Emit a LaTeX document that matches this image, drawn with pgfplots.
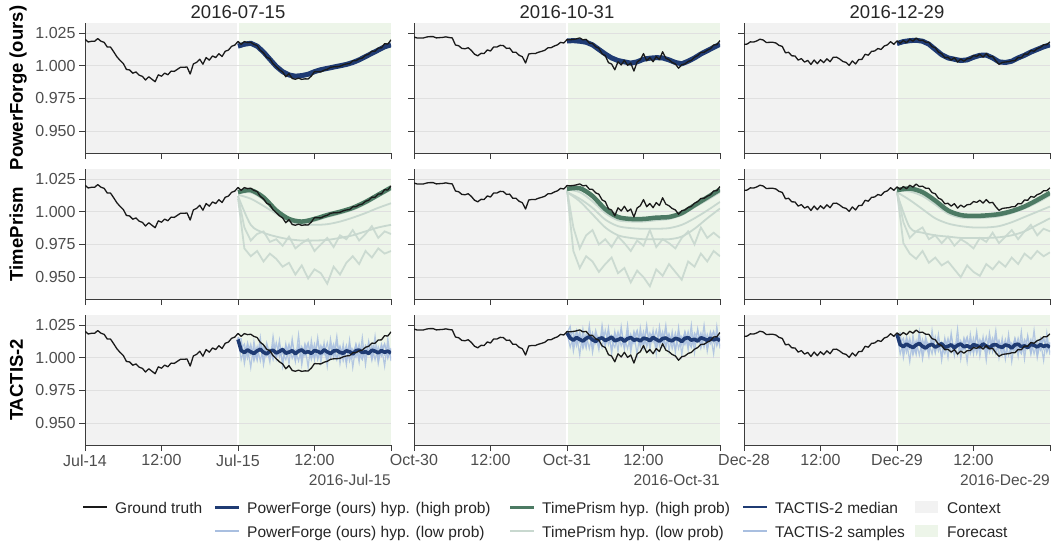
\documentclass[border=0pt]{standalone}
\usepackage{fontspec}
\setmainfont{Liberation Sans}
\usepackage{pgfplots}
\usepackage{pgfplotstable}
\pgfplotsset{compat=1.18}

\definecolor{ctxbg}{HTML}{F2F2F2}
\definecolor{fcbg}{HTML}{EDF5E9}
\definecolor{gridcol}{HTML}{E0E0E0}
\definecolor{axcol}{HTML}{3C3C3C}
\definecolor{tickcol}{HTML}{4D4D4D}
\definecolor{gtcol}{HTML}{1A1A1A}
\definecolor{navy}{HTML}{1F3B73}
\definecolor{lightblue}{HTML}{A9BFE0}
\definecolor{tpgreen}{HTML}{4C7A63}
\definecolor{tplowc}{HTML}{C8D8CF}
\definecolor{txt}{HTML}{262626}

\newcommand\ticksize{\fontsize{16}{19}\selectfont}
\newcommand\legsize{\fontsize{15.5}{18}\selectfont}

% ground truth, 30 min steps
\pgfplotstableread{
x y
0.0 1.0203
0.5 1.0182
1.0 1.0187
1.5 1.0187
2.0 1.0208
2.5 1.0188
3.0 1.0179
3.5 1.0143
4.0 1.0143
4.5 1.0107
5.0 1.0069
5.5 1.0041
6.0 1.0018
6.5 0.9972
7.0 0.9968
7.5 0.9943
8.0 0.9953
8.5 0.9928
9.0 0.9919
9.5 0.9891
10.0 0.9916
10.5 0.9897
11.0 0.9878
11.5 0.9931
12.0 0.9920
12.5 0.9944
13.0 0.9931
13.5 0.9959
14.0 0.9957
14.5 0.9973
15.0 0.9989
15.5 0.9988
16.0 0.9991
16.5 0.9937
17.0 1.0014
17.5 1.0026
18.0 1.0050
18.5 1.0012
19.0 1.0063
19.5 1.0043
20.0 1.0075
20.5 1.0063
21.0 1.0092
21.5 1.0071
22.0 1.0111
22.5 1.0120
23.0 1.0149
23.5 1.0158
24.0 1.0186
24.5 1.0164
25.0 1.0185
25.5 1.0177
26.0 1.0180
26.5 1.0163
27.0 1.0155
27.5 1.0118
28.0 1.0099
28.5 1.0065
29.0 1.0054
29.5 1.0016
30.0 0.9993
30.5 0.9969
31.0 0.9953
31.5 0.9916
32.0 0.9940
32.5 0.9903
33.0 0.9897
33.5 0.9905
34.0 0.9896
34.5 0.9900
35.0 0.9899
35.5 0.9921
36.0 0.9956
36.5 0.9954
37.0 0.9953
37.5 0.9966
38.0 0.9973
38.5 0.9988
39.0 0.9992
39.5 0.9993
40.0 0.9996
40.5 1.0007
41.0 1.0014
41.5 1.0016
42.0 1.0038
42.5 1.0039
43.0 1.0053
43.5 1.0059
44.0 1.0080
44.5 1.0088
45.0 1.0112
45.5 1.0111
46.0 1.0136
46.5 1.0137
47.0 1.0169
47.5 1.0166
48.0 1.0198
}\gtA

\pgfplotstableread{
x y
0.0 1.0220
0.5 1.0212
1.0 1.0213
1.5 1.0213
2.0 1.0220
2.5 1.0223
3.0 1.0223
3.5 1.0213
4.0 1.0215
4.5 1.0217
5.0 1.0221
5.5 1.0216
6.0 1.0213
6.5 1.0159
7.0 1.0153
7.5 1.0133
8.0 1.0130
8.5 1.0138
9.0 1.0117
9.5 1.0088
10.0 1.0076
10.5 1.0095
11.0 1.0094
11.5 1.0121
12.0 1.0113
12.5 1.0144
13.0 1.0143
13.5 1.0156
14.0 1.0155
14.5 1.0133
15.0 1.0135
15.5 1.0103
16.0 1.0103
16.5 1.0080
17.0 1.0069
17.5 1.0021
18.0 1.0090
18.5 1.0094
19.0 1.0093
19.5 1.0103
20.0 1.0110
20.5 1.0118
21.0 1.0137
21.5 1.0138
22.0 1.0151
22.5 1.0160
23.0 1.0179
23.5 1.0174
24.0 1.0200
24.5 1.0199
25.0 1.0201
25.5 1.0206
26.0 1.0213
26.5 1.0198
27.0 1.0202
27.5 1.0173
28.0 1.0171
28.5 1.0145
29.0 1.0134
29.5 1.0091
30.0 1.0078
30.5 1.0024
31.0 1.0013
31.5 0.9969
32.0 1.0030
32.5 1.0006
33.0 1.0042
33.5 1.0003
34.0 1.0021
34.5 0.9960
35.0 1.0029
35.5 1.0046
36.0 1.0093
36.5 1.0039
37.0 1.0063
37.5 1.0031
38.0 1.0070
38.5 1.0048
39.0 1.0107
39.5 1.0058
40.0 1.0046
40.5 1.0025
41.0 1.0014
41.5 0.9981
42.0 1.0008
42.5 1.0014
43.0 1.0033
43.5 1.0041
44.0 1.0065
44.5 1.0078
45.0 1.0102
45.5 1.0103
46.0 1.0119
46.5 1.0130
47.0 1.0159
47.5 1.0161
48.0 1.0193
}\gtB

\pgfplotstableread{
x y
0.0 1.0163
0.5 1.0166
1.0 1.0183
1.5 1.0181
2.0 1.0190
2.5 1.0203
3.0 1.0197
3.5 1.0178
4.0 1.0179
4.5 1.0180
5.0 1.0174
5.5 1.0156
6.0 1.0148
6.5 1.0099
7.0 1.0103
7.5 1.0076
8.0 1.0075
8.5 1.0043
9.0 1.0055
9.5 1.0028
10.0 1.0041
10.5 1.0010
11.0 1.0044
11.5 1.0016
12.0 1.0046
12.5 1.0024
13.0 1.0053
13.5 1.0031
14.0 1.0065
14.5 1.0066
15.0 1.0052
15.5 1.0033
16.0 1.0026
16.5 1.0003
17.0 1.0037
17.5 1.0014
18.0 1.0048
18.5 1.0049
19.0 1.0088
19.5 1.0081
20.0 1.0110
20.5 1.0113
21.0 1.0132
21.5 1.0125
22.0 1.0151
22.5 1.0160
23.0 1.0184
23.5 1.0164
24.0 1.0190
24.5 1.0172
25.0 1.0193
25.5 1.0176
26.0 1.0203
26.5 1.0188
27.0 1.0212
27.5 1.0193
28.0 1.0196
28.5 1.0180
29.0 1.0179
29.5 1.0146
30.0 1.0138
30.5 1.0104
31.0 1.0093
31.5 1.0061
32.0 1.0065
32.5 1.0043
33.0 1.0062
33.5 1.0028
34.0 1.0051
34.5 1.0035
35.0 1.0054
35.5 1.0056
36.0 1.0078
36.5 1.0072
37.0 1.0088
37.5 1.0066
38.0 1.0093
38.5 1.0068
39.0 1.0072
39.5 1.0038
40.0 1.0011
40.5 1.0025
41.0 1.0029
41.5 1.0031
42.0 1.0038
42.5 1.0039
43.0 1.0063
43.5 1.0061
44.0 1.0090
44.5 1.0088
45.0 1.0117
45.5 1.0111
46.0 1.0131
46.5 1.0140
47.0 1.0161
47.5 1.0161
48.0 1.0183
}\gtC

% hourly forecasts: PowerForge high/low, TimePrism noisy low-prob hypotheses
\pgfplotstableread{
x pfh pfl n1 n2
24 1.0150 1.0140 1.0120 1.0100
25 1.0165 1.0152 0.9880 0.9720
26 1.0172 1.0160 0.9780 0.9660
27 1.0150 1.0138 0.9830 0.9700
28 1.0105 1.0095 0.9850 0.9620
29 1.0050 1.0040 0.9770 0.9680
30 0.9995 0.9985 0.9790 0.9640
31 0.9955 0.9943 0.9740 0.9580
32 0.9930 0.9918 0.9810 0.9610
33 0.9920 0.9910 0.9720 0.9520
34 0.9925 0.9913 0.9760 0.9590
35 0.9935 0.9925 0.9790 0.9490
36 0.9955 0.9943 0.9700 0.9560
37 0.9970 0.9960 0.9750 0.9530
38 0.9980 0.9968 0.9800 0.9450
39 0.9990 0.9980 0.9730 0.9580
40 1.0000 0.9988 0.9820 0.9520
41 1.0010 1.0000 0.9790 0.9610
42 1.0025 1.0013 0.9860 0.9660
43 1.0045 1.0035 0.9780 0.9600
44 1.0070 1.0058 0.9830 0.9700
45 1.0095 1.0085 0.9890 0.9650
46 1.0120 1.0108 0.9800 0.9720
47 1.0145 1.0135 0.9850 0.9680
48 1.0160 1.0150 0.9830 0.9700
}\hrA

\pgfplotstableread{
x pfh pfl n1 n2
24 1.0190 1.0180 1.0170 1.0160
25 1.0192 1.0180 0.9880 0.9700
26 1.0188 1.0176 0.9720 0.9570
27 1.0180 1.0168 0.9820 0.9660
28 1.0160 1.0148 0.9860 0.9620
29 1.0125 1.0113 0.9750 0.9540
30 1.0090 1.0078 0.9790 0.9600
31 1.0060 1.0048 0.9730 0.9650
32 1.0040 1.0028 0.9810 0.9530
33 1.0030 1.0018 0.9760 0.9570
34 1.0020 1.0008 0.9700 0.9460
35 1.0030 1.0018 0.9780 0.9550
36 1.0050 1.0038 0.9740 0.9500
37 1.0058 1.0046 0.9860 0.9430
38 1.0062 1.0050 0.9730 0.9560
39 1.0060 1.0048 0.9790 0.9510
40 1.0045 1.0033 0.9760 0.9600
41 1.0025 1.0013 0.9720 0.9540
42 1.0015 1.0003 0.9800 0.9480
43 1.0035 1.0023 0.9850 0.9620
44 1.0060 1.0048 0.9750 0.9580
45 1.0090 1.0078 0.9880 0.9680
46 1.0115 1.0103 0.9800 0.9620
47 1.0140 1.0128 0.9840 0.9700
48 1.0165 1.0153 0.9800 0.9660
}\hrB

\pgfplotstableread{
x pfh pfl n1 n2
24 1.0170 1.0160 1.0160 1.0150
25 1.0185 1.0173 0.9920 0.9760
26 1.0192 1.0180 0.9800 0.9680
27 1.0195 1.0183 0.9850 0.9640
28 1.0188 1.0176 0.9880 0.9700
29 1.0165 1.0153 0.9790 0.9610
30 1.0125 1.0113 0.9820 0.9650
31 1.0085 1.0073 0.9760 0.9590
32 1.0060 1.0048 0.9810 0.9620
33 1.0050 1.0038 0.9740 0.9560
34 1.0040 1.0028 0.9790 0.9500
35 1.0045 1.0033 0.9760 0.9590
36 1.0065 1.0053 0.9720 0.9540
37 1.0080 1.0068 0.9800 0.9510
38 1.0082 1.0070 0.9770 0.9600
39 1.0060 1.0048 0.9840 0.9560
40 1.0030 1.0018 0.9760 0.9620
41 1.0025 1.0013 0.9810 0.9580
42 1.0035 1.0023 0.9860 0.9650
43 1.0060 1.0048 0.9790 0.9600
44 1.0080 1.0068 0.9850 0.9680
45 1.0105 1.0093 0.9900 0.9640
46 1.0125 1.0113 0.9820 0.9700
47 1.0145 1.0133 0.9870 0.9660
48 1.0160 1.0148 0.9850 0.9690
}\hrC

% TimePrism smooth hypotheses, 2 h steps
\pgfplotstableread{
x tph l1 l2 l3
24 1.0150 1.0140 1.0130 1.0120
26 1.0165 1.0148 1.0100 0.9900
28 1.0110 1.0092 1.0045 0.9840
30 1.0010 0.9992 0.9985 0.9810
32 0.9945 0.9928 0.9930 0.9790
34 0.9925 0.9910 0.9905 0.9780
36 0.9945 0.9930 0.9900 0.9780
38 0.9975 0.9960 0.9905 0.9785
40 1.0000 0.9985 0.9925 0.9800
42 1.0030 1.0015 0.9955 0.9820
44 1.0075 1.0060 0.9990 0.9850
46 1.0130 1.0115 1.0030 0.9880
48 1.0185 1.0170 1.0065 0.9900
}\tpA

\pgfplotstableread{
x tph l1 l2 l3
24 1.0175 1.0170 1.0150 1.0150
26 1.0180 1.0150 1.0100 1.0080
28 1.0120 1.0080 1.0030 0.9980
30 1.0020 0.9990 0.9940 0.9880
32 0.9960 0.9935 0.9890 0.9820
34 0.9945 0.9925 0.9875 0.9800
36 0.9945 0.9925 0.9870 0.9790
38 0.9955 0.9935 0.9870 0.9790
40 0.9960 0.9945 0.9875 0.9790
42 0.9990 0.9975 0.9900 0.9810
44 1.0050 1.0035 0.9950 0.9870
46 1.0110 1.0090 1.0010 0.9950
48 1.0170 1.0150 1.0075 1.0025
}\tpB

\pgfplotstableread{
x tph l1 l2 l3
24 1.0165 1.0160 1.0150 1.0140
26 1.0178 1.0155 1.0090 0.9880
28 1.0150 1.0120 1.0020 0.9840
30 1.0085 1.0055 0.9950 0.9820
32 1.0010 0.9985 0.9910 0.9810
34 0.9975 0.9955 0.9890 0.9800
36 0.9968 0.9950 0.9880 0.9800
38 0.9972 0.9955 0.9880 0.9800
40 0.9982 0.9965 0.9890 0.9805
42 1.0005 0.9990 0.9920 0.9820
44 1.0040 1.0025 0.9960 0.9850
46 1.0090 1.0070 1.0000 0.9900
48 1.0145 1.0125 1.0040 0.9950
}\tpC

% TACTIS-2 median and samples, 30 min steps
\pgfplotstableread{
x med s1 s2 s3 s4
24.0 1.0140 1.0160 1.0150 1.0155 1.0150
24.5 1.0055 1.0095 0.9985 1.0065 1.0145
25.0 1.0040 1.0005 1.0075 1.0105 0.9955
25.5 1.0060 1.0115 1.0025 0.9995 1.0085
26.0 1.0045 1.0025 1.0105 1.0075 0.9925
26.5 1.0033 1.0075 0.9995 0.9975 1.0125
27.0 1.0053 0.9985 1.0085 1.0055 0.9985
27.5 1.0065 1.0125 0.9975 1.0085 1.0155
28.0 1.0042 1.0035 1.0095 0.9985 0.9945
28.5 1.0030 1.0085 1.0015 1.0115 1.0075
29.0 1.0050 0.9995 1.0065 1.0025 0.9965
29.5 1.0057 1.0105 0.9985 1.0075 1.0165
30.0 1.0037 1.0015 1.0115 0.9995 0.9995
30.5 1.0048 1.0065 1.0005 1.0105 1.0135
31.0 1.0063 0.9975 1.0075 1.0035 0.9935
31.5 1.0035 1.0095 1.0025 0.9985 1.0105
32.0 1.0043 1.0025 1.0105 1.0085 0.9955
32.5 1.0054 1.0115 0.9995 1.0065 1.0145
33.0 1.0031 1.0005 1.0055 0.9975 0.9975
33.5 1.0051 1.0075 0.9975 1.0095 1.0175
34.0 1.0060 0.9985 1.0085 1.0015 0.9945
34.5 1.0039 1.0105 1.0015 1.0055 1.0095
35.0 1.0047 1.0035 1.0105 1.0115 0.9925
35.5 1.0034 1.0085 0.9985 1.0005 1.0135
36.0 1.0055 0.9995 1.0065 1.0105 0.9985
36.5 1.0049 1.0125 1.0005 0.9985 1.0155
37.0 1.0036 1.0015 1.0095 1.0065 0.9965
37.5 1.0061 1.0065 1.0025 1.0095 1.0115
38.0 1.0045 0.9985 1.0115 1.0015 0.9935
38.5 1.0032 1.0095 0.9995 1.0035 1.0145
39.0 1.0052 1.0005 1.0075 1.0105 1.0005
39.5 1.0056 1.0115 0.9985 0.9995 1.0165
40.0 1.0041 1.0025 1.0085 1.0085 0.9955
40.5 1.0035 1.0075 1.0015 0.9975 1.0105
41.0 1.0053 0.9975 1.0095 1.0065 0.9945
41.5 1.0047 1.0105 0.9975 1.0075 1.0135
42.0 1.0029 1.0035 1.0065 1.0005 0.9925
42.5 1.0054 1.0095 1.0005 1.0105 1.0095
43.0 1.0059 0.9995 1.0105 1.0025 0.9965
43.5 1.0040 1.0085 0.9995 0.9985 1.0155
44.0 1.0046 1.0015 1.0075 1.0095 0.9945
44.5 1.0033 1.0115 1.0025 1.0055 1.0125
45.0 1.0058 0.9985 1.0095 1.0015 0.9985
45.5 1.0050 1.0065 0.9985 1.0085 1.0165
46.0 1.0038 1.0005 1.0085 0.9975 0.9955
46.5 1.0055 1.0105 1.0015 1.0065 1.0085
47.0 1.0042 1.0025 1.0105 1.0105 0.9935
47.5 1.0051 1.0095 1.0005 0.9995 1.0145
48.0 1.0036 0.9995 1.0065 1.0075 0.9975
}\tcA

\pgfplotstableread{
x med s1 s2 s3 s4
24.0 1.0190 1.0195 1.0190 1.0192 1.0190
24.5 1.0150 1.0190 1.0080 1.0160 1.0240
25.0 1.0135 1.0100 1.0170 1.0200 1.0050
25.5 1.0155 1.0210 1.0120 1.0090 1.0180
26.0 1.0140 1.0120 1.0200 1.0170 1.0020
26.5 1.0128 1.0170 1.0090 1.0070 1.0220
27.0 1.0148 1.0080 1.0180 1.0150 1.0080
27.5 1.0160 1.0220 1.0070 1.0180 1.0250
28.0 1.0137 1.0130 1.0190 1.0080 1.0040
28.5 1.0125 1.0180 1.0110 1.0210 1.0170
29.0 1.0145 1.0090 1.0160 1.0120 1.0060
29.5 1.0152 1.0200 1.0080 1.0170 1.0250
30.0 1.0132 1.0110 1.0210 1.0090 1.0090
30.5 1.0143 1.0160 1.0100 1.0200 1.0230
31.0 1.0158 1.0070 1.0170 1.0130 1.0030
31.5 1.0130 1.0190 1.0120 1.0080 1.0200
32.0 1.0138 1.0120 1.0200 1.0180 1.0050
32.5 1.0149 1.0210 1.0090 1.0160 1.0240
33.0 1.0126 1.0100 1.0150 1.0070 1.0070
33.5 1.0146 1.0170 1.0070 1.0190 1.0250
34.0 1.0155 1.0080 1.0180 1.0110 1.0040
34.5 1.0134 1.0200 1.0110 1.0150 1.0190
35.0 1.0142 1.0130 1.0200 1.0210 1.0020
35.5 1.0129 1.0180 1.0080 1.0100 1.0230
36.0 1.0150 1.0090 1.0160 1.0200 1.0080
36.5 1.0144 1.0220 1.0100 1.0080 1.0250
37.0 1.0131 1.0110 1.0190 1.0160 1.0060
37.5 1.0156 1.0160 1.0120 1.0190 1.0210
38.0 1.0140 1.0080 1.0210 1.0110 1.0030
38.5 1.0127 1.0190 1.0090 1.0130 1.0240
39.0 1.0147 1.0100 1.0170 1.0200 1.0100
39.5 1.0151 1.0210 1.0080 1.0090 1.0250
40.0 1.0136 1.0120 1.0180 1.0180 1.0050
40.5 1.0130 1.0170 1.0110 1.0070 1.0200
41.0 1.0148 1.0070 1.0190 1.0160 1.0040
41.5 1.0142 1.0200 1.0070 1.0170 1.0230
42.0 1.0124 1.0130 1.0160 1.0100 1.0020
42.5 1.0149 1.0190 1.0100 1.0200 1.0190
43.0 1.0154 1.0090 1.0200 1.0120 1.0060
43.5 1.0135 1.0180 1.0090 1.0080 1.0250
44.0 1.0141 1.0110 1.0170 1.0190 1.0040
44.5 1.0128 1.0210 1.0120 1.0150 1.0220
45.0 1.0153 1.0080 1.0190 1.0110 1.0080
45.5 1.0145 1.0160 1.0080 1.0180 1.0250
46.0 1.0133 1.0100 1.0180 1.0070 1.0050
46.5 1.0150 1.0200 1.0110 1.0160 1.0180
47.0 1.0137 1.0120 1.0200 1.0200 1.0030
47.5 1.0146 1.0190 1.0100 1.0090 1.0240
48.0 1.0131 1.0090 1.0160 1.0170 1.0070
}\tcB

\pgfplotstableread{
x med s1 s2 s3 s4
24.0 1.0180 1.0182 1.0180 1.0181 1.0180
24.5 1.0100 1.0140 1.0030 1.0110 1.0190
25.0 1.0085 1.0050 1.0120 1.0150 1.0000
25.5 1.0105 1.0160 1.0070 1.0040 1.0130
26.0 1.0090 1.0070 1.0150 1.0120 0.9970
26.5 1.0078 1.0120 1.0040 1.0020 1.0170
27.0 1.0098 1.0030 1.0130 1.0100 1.0030
27.5 1.0110 1.0170 1.0020 1.0130 1.0200
28.0 1.0087 1.0080 1.0140 1.0030 0.9990
28.5 1.0075 1.0130 1.0060 1.0160 1.0120
29.0 1.0095 1.0040 1.0110 1.0070 1.0010
29.5 1.0102 1.0150 1.0030 1.0120 1.0210
30.0 1.0082 1.0060 1.0160 1.0040 1.0040
30.5 1.0093 1.0110 1.0050 1.0150 1.0180
31.0 1.0108 1.0020 1.0120 1.0080 0.9980
31.5 1.0080 1.0140 1.0070 1.0030 1.0150
32.0 1.0088 1.0070 1.0150 1.0130 1.0000
32.5 1.0099 1.0160 1.0040 1.0110 1.0190
33.0 1.0076 1.0050 1.0100 1.0020 1.0020
33.5 1.0096 1.0120 1.0020 1.0140 1.0220
34.0 1.0105 1.0030 1.0130 1.0060 0.9990
34.5 1.0084 1.0150 1.0060 1.0100 1.0140
35.0 1.0092 1.0080 1.0150 1.0160 0.9970
35.5 1.0079 1.0130 1.0030 1.0050 1.0180
36.0 1.0100 1.0040 1.0110 1.0150 1.0030
36.5 1.0094 1.0170 1.0050 1.0030 1.0200
37.0 1.0081 1.0060 1.0140 1.0110 1.0010
37.5 1.0106 1.0110 1.0070 1.0140 1.0160
38.0 1.0090 1.0030 1.0160 1.0060 0.9980
38.5 1.0077 1.0140 1.0040 1.0080 1.0190
39.0 1.0097 1.0050 1.0120 1.0150 1.0050
39.5 1.0101 1.0160 1.0030 1.0040 1.0210
40.0 1.0086 1.0070 1.0130 1.0130 1.0000
40.5 1.0080 1.0120 1.0060 1.0020 1.0150
41.0 1.0098 1.0020 1.0140 1.0110 0.9990
41.5 1.0092 1.0150 1.0020 1.0120 1.0180
42.0 1.0074 1.0080 1.0110 1.0050 0.9970
42.5 1.0099 1.0140 1.0050 1.0150 1.0140
43.0 1.0104 1.0040 1.0150 1.0070 1.0010
43.5 1.0085 1.0130 1.0040 1.0030 1.0200
44.0 1.0091 1.0060 1.0120 1.0140 0.9990
44.5 1.0078 1.0160 1.0070 1.0100 1.0170
45.0 1.0103 1.0030 1.0140 1.0060 1.0030
45.5 1.0095 1.0110 1.0030 1.0130 1.0210
46.0 1.0083 1.0050 1.0130 1.0020 1.0000
46.5 1.0100 1.0150 1.0060 1.0110 1.0130
47.0 1.0087 1.0070 1.0150 1.0150 0.9980
47.5 1.0096 1.0140 1.0050 1.0040 1.0190
48.0 1.0081 1.0040 1.0110 1.0120 1.0020
}\tcC

\pgfplotsset{
  panel/.style={
    scale only axis, width=306pt, height=130pt,
    xmin=0, xmax=48, ymin=0.9333, ymax=1.0327,
    axis x line*=bottom, axis y line*=left,
    axis line style={draw=axcol, line width=0.9pt},
    xtick={0,12,24,36,48}, ytick={0.95,0.975,1,1.025},
    tick align=outside, major tick length=6pt,
    tick style={draw=axcol, line width=0.9pt},
    ymajorgrids, grid style={draw=gridcol, line width=0.8pt},
    xticklabels={}, yticklabels={},
    ticklabel style={font=\ticksize, text=tickcol},
    set layers, anchor=north west,
  },
  leftcol/.style={yticklabels={0.950,0.975,1.000,1.025}},
  gt/.style={draw=gtcol, line width=1.3pt, mark=none, line join=round},
  pfhigh/.style={draw=navy, line width=5pt, mark=none, line join=round},
  pflow/.style={draw=lightblue, line width=1.5pt, mark=none},
  tphigh/.style={draw=tpgreen, line width=4.5pt, mark=none, smooth},
  tplow/.style={draw=tplowc, line width=1.8pt, mark=none, smooth},
  tpnoisy/.style={draw=tplowc, line width=1.8pt, mark=none, opacity=0.9},
  tcmed/.style={draw=navy, line width=3.6pt, mark=none, line join=round},
  tcs/.style={draw=lightblue, line width=1.2pt, opacity=0.85, mark=none},
}

\newcommand\bgpanel{%
  \begin{pgfonlayer}{axis background}%
    \fill[ctxbg] (axis cs:0,0.9333) rectangle (axis cs:24,1.0327);%
    \fill[fcbg] (axis cs:24,0.9333) rectangle (axis cs:48,1.0327);%
    \draw[white, line width=2.2pt] (axis cs:24,0.9333) -- (axis cs:24,1.0327);%
  \end{pgfonlayer}}

% one panel per (method, date)
\newcommand\pfpanel[3]{% gt, hourly table, options
  \begin{axis}[panel,#3]
    \bgpanel
    \addplot[pflow] table[x=x,y=pfl]{#2};
    \addplot[pfhigh] table[x=x,y=pfh]{#2};
    \addplot[gt] table[x=x,y=y]{#1};
  \end{axis}}
\newcommand\tppanel[4]{% gt, hourly table, smooth table, options
  \begin{axis}[panel,#4]
    \bgpanel
    \addplot[tpnoisy] table[x=x,y=n2]{#2};
    \addplot[tpnoisy] table[x=x,y=n1]{#2};
    \addplot[tplow] table[x=x,y=l3]{#3};
    \addplot[tplow] table[x=x,y=l2]{#3};
    \addplot[tplow] table[x=x,y=l1]{#3};
    \addplot[tphigh] table[x=x,y=tph]{#3};
    \addplot[gt] table[x=x,y=y]{#1};
  \end{axis}}
\newcommand\tcpanel[3]{% gt, tactis table, options
  \begin{axis}[panel,#3]
    \bgpanel
    \addplot[tcs] table[x=x,y=s4]{#2};
    \addplot[tcs] table[x=x,y=s1]{#2};
    \addplot[tcs] table[x=x,y=s2]{#2};
    \addplot[tcs] table[x=x,y=s3]{#2};
    \addplot[tcmed] table[x=x,y=med]{#2};
    \addplot[gt] table[x=x,y=y]{#1};
  \end{axis}}

\begin{document}
\begin{tikzpicture}

% row 1: PowerForge
\pfpanel{\gtA}{\hrA}{leftcol, at={(85pt,-23pt)}}
\pfpanel{\gtB}{\hrB}{at={(414pt,-23pt)}}
\pfpanel{\gtC}{\hrC}{at={(744pt,-23pt)}}
% row 2: TimePrism
\tppanel{\gtA}{\hrA}{\tpA}{leftcol, at={(85pt,-169pt)}}
\tppanel{\gtB}{\hrB}{\tpB}{at={(414pt,-169pt)}}
\tppanel{\gtC}{\hrC}{\tpC}{at={(744pt,-169pt)}}
% row 3: TACTIS-2
\tcpanel{\gtA}{\tcA}{leftcol, at={(85pt,-315pt)}, xticklabels={Jul-14,12:00,Jul-15,12:00,{}}}
\tcpanel{\gtB}{\tcB}{at={(414pt,-315pt)}, xticklabels={Oct-30,12:00,Oct-31,12:00,{}}}
\tcpanel{\gtC}{\tcC}{at={(744pt,-315pt)}, xticklabels={Dec-28,12:00,Dec-29,12:00,{}}}

% column titles
\begin{scope}[every node/.style={font=\fontsize{18.5}{22}\selectfont, text=txt, anchor=base, inner sep=0pt}]
  \node at (238pt,-18pt) {2016-07-15};
  \node at (567pt,-18pt) {2016-10-31};
  \node at (897pt,-18pt) {2016-12-29};
\end{scope}
% row labels
\begin{scope}[every node/.style={font=\bfseries\fontsize{18.5}{22}\selectfont, text=black, anchor=base, rotate=90, inner sep=0pt}]
  \node at (23pt,-88pt) {PowerForge (ours)};
  \node at (23pt,-234pt) {TimePrism};
  \node at (23pt,-380pt) {TACTIS-2};
\end{scope}
% date offsets under the x axes
\begin{scope}[every node/.style={font=\legsize, text=tickcol, anchor=base east, inner sep=0pt}]
  \node at (391pt,-485pt) {2016-Jul-15};
  \node at (720pt,-485pt) {2016-Oct-31};
  \node at (1050pt,-485pt) {2016-Dec-29};
\end{scope}

% legend
\begin{scope}[every node/.style={font=\legsize, text=txt, anchor=base west, inner sep=0pt}]
  \draw[gtcol, line width=1.8pt] (83pt,-507pt) -- (107pt,-507pt);
  \node at (115pt,-513pt) {Ground truth};
  \draw[navy, line width=3pt] (215pt,-507pt) -- (239pt,-507pt);
  \node at (247pt,-513pt) {PowerForge (ours) hyp. (high prob)};
  \draw[lightblue, line width=1.8pt] (215pt,-531pt) -- (239pt,-531pt);
  \node at (247pt,-537pt) {PowerForge (ours) hyp. (low prob)};
  \draw[tpgreen, line width=3pt] (510pt,-507pt) -- (534pt,-507pt);
  \node at (542pt,-513pt) {TimePrism hyp. (high prob)};
  \draw[tplowc, line width=1.8pt] (510pt,-531pt) -- (534pt,-531pt);
  \node at (542pt,-537pt) {TimePrism hyp. (low prob)};
  \draw[navy, line width=2.5pt] (743pt,-507pt) -- (767pt,-507pt);
  \node at (775pt,-513pt) {TACTIS-2 median};
  \draw[lightblue, line width=1.5pt] (743pt,-531pt) -- (767pt,-531pt);
  \node at (775pt,-537pt) {TACTIS-2 samples};
  \fill[ctxbg] (915pt,-501pt) rectangle (938pt,-513pt);
  \node at (947pt,-513pt) {Context};
  \fill[fcbg] (915pt,-525pt) rectangle (938pt,-537pt);
  \node at (947pt,-537pt) {Forecast};
\end{scope}

\pgfresetboundingbox
\useasboundingbox (0,0) rectangle (1053pt,-541pt);
\end{tikzpicture}
\end{document}
